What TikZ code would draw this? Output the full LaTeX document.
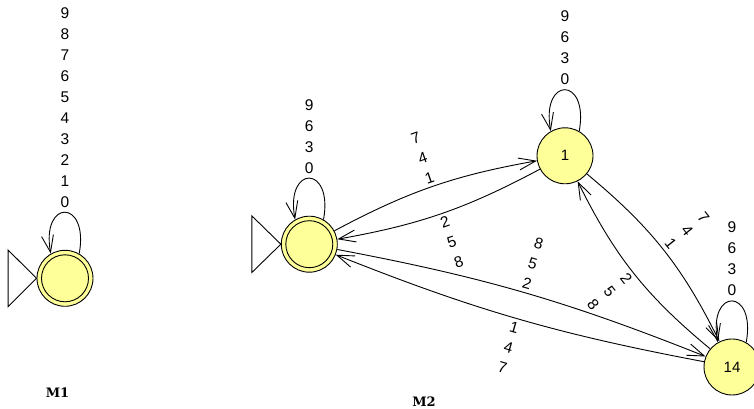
\documentclass[tikz,border=0pt]{standalone}
\usepackage{fontspec}
\newfontfamily\labfont{Liberation Sans}
\newfontfamily\titlefont{DejaVu Serif}
\usetikzlibrary{arrows.meta}
\definecolor{statefill}{RGB}{255,255,153}
\begin{document}
\begin{tikzpicture}[x=1pt,y=1pt,
  state/.style={circle, draw=black, line width=0.9pt, fill=statefill, minimum size=56pt, inner sep=0pt, font=\labfont\fontsize{15}{18}\selectfont},
  final/.style={state, path picture={\draw[line width=0.9pt] (path picture bounding box.center) circle[radius=23.5pt];}},
  edge/.style={draw=black, line width=0.9pt, -{Straight Barb[length=17pt,width=12pt]}},
  elab/.style={sloped, align=center, inner sep=3.5pt, font=\labfont\fontsize{15.5}{21}\selectfont},
  llab/.style={above, align=center, inner sep=4.6pt, font=\labfont\fontsize{15.5}{21}\selectfont},
  init/.style={draw=black, line width=0.9pt},
  title/.style={font=\titlefont\bfseries\fontsize{13}{15}\selectfont, inner sep=0pt}
]
\useasboundingbox (0,0) rectangle (754,409);
\node[final] (m1) at (65,130.7) {};
\node[final] (q0) at (309.3,164.8) {};
\node[state] (s1) at (565,253.2) {1};
\node[state] (s14) at (732,42) {14};

\draw[init] (m1.west) -- ++(-28.5,28.3) -- ++(0,-56.6) -- cycle;
\draw[init] (q0.west) -- ++(-29,28.3) -- ++(0,-56.6) -- cycle;

\draw[edge] (m1.60) .. controls +(10,55) and +(-10,55) .. (m1.120) node[llab, pos=0.5] {9\\8\\7\\6\\5\\4\\3\\2\\1\\0};
\draw[edge] (q0.60) .. controls +(10,55) and +(-10,55) .. (q0.120) node[llab, pos=0.5] {9\\6\\3\\0};
\draw[edge] (s1.60) .. controls +(10,55) and +(-10,55) .. (s1.120) node[llab, pos=0.5] {9\\6\\3\\0};
\draw[edge] (s14.60) .. controls +(10,55) and +(-10,55) .. (s14.120) node[llab, pos=0.5] {9\\6\\3\\0};

\draw[edge] (q0) to[bend left=9] node[elab, above] {7\\4\\1} (s1);
\draw[edge] (s1) to[bend left=9] node[elab, below] {2\\5\\8} (q0);
\draw[edge] (q0) to[bend left=5.5] node[elab, above] {8\\5\\2} (s14);
\draw[edge] (s14) to[bend left=5.5] node[elab, below] {1\\4\\7} (q0);
\draw[edge] (s1) to[bend left=12] node[elab, above] {7\\4\\1} (s14);
\draw[edge] (s14) to[bend left=12] node[elab, below] {2\\5\\8} (s1);

\node[title] (t1) at (57.5,16) {M1};
\node[title] (t2) at (424,7) {M2};
\end{tikzpicture}
\end{document}
